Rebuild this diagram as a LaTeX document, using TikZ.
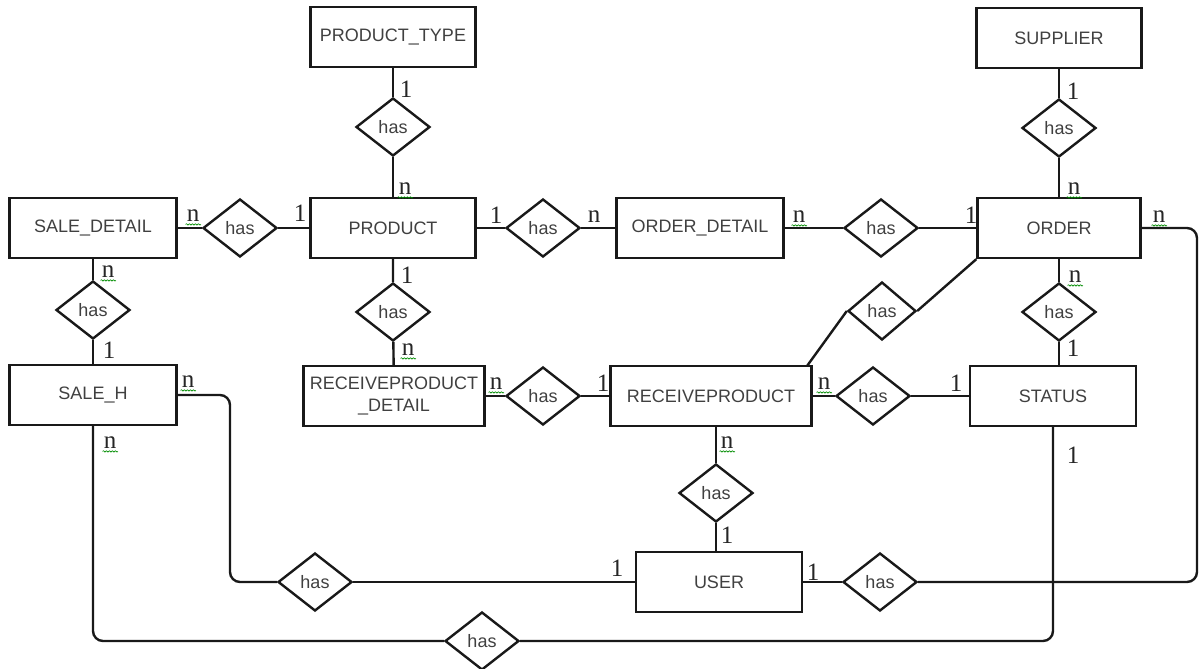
\documentclass[tikz,border=0pt]{standalone}
\usepackage{fontspec}
\setmainfont{Liberation Sans}
\newfontfamily\cardfont{Liberation Serif}
\usetikzlibrary{shapes.geometric,decorations.pathmorphing}
\begin{document}
\begin{tikzpicture}[x=1pt,y=-1pt,
  ent/.style={draw=black!90, line width=2.4pt, minimum width=#1, minimum height=60pt, inner sep=0pt,
    font=\fontsize{18}{22}\selectfont, text=black!75, align=center},
  ent/.default=166pt,
  rel/.style={draw=black!90, diamond, line width=2.4pt, minimum width=74pt, minimum height=58pt, inner sep=0pt,
    font=\fontsize{18}{21}\selectfont, text=black!75},
  conn/.style={draw=black!90, line width=2.4pt},
  card/.style={inner sep=0pt, font=\cardfont\fontsize{25}{25}\selectfont, text=black!85},
  squig/.style={draw=green!55!black, line width=0.6pt, decorate,
    decoration={snake, segment length=3pt, amplitude=0.7pt}}
]
\useasboundingbox (0,0) rectangle (1200,669);

% entities
\node[ent=165pt] (pt)   at (393,37)  {PRODUCT\_TYPE};
\node[ent=165pt] (sup)  at (1059,38) {SUPPLIER};
\node[ent=167pt] (sd)   at (93,228)  {SALE\_DETAIL};
\node[ent=165pt] (p)    at (393,228) {PRODUCT};
\node[ent=167pt] (od)   at (700,228) {ORDER\_DETAIL};
\node[ent=163pt] (ord)  at (1059,228) {ORDER};
\node[ent=167pt] (sh)   at (93,395)  {SALE\_H};
\node[ent=181pt] (rpd)  at (394,396) {RECEIVEPRODUCT\\\_DETAIL};
\node[ent=201pt] (rp)   at (711,396) {RECEIVEPRODUCT};
\node[ent=166pt] (st)   at (1053,396) {STATUS};
\node[ent=166pt] (user) at (719,582) {USER};

% relationships
\node[rel] (h1)  at (393,127) {has};
\node[rel] (h2)  at (1059,128) {has};
\node[rel] (h3)  at (240,228) {has};
\node[rel] (h4)  at (543,228) {has};
\node[rel] (h5)  at (881,228) {has};
\node[rel] (h6)  at (93,310)  {has};
\node[rel] (h7)  at (393,312) {has};
\node[rel, minimum width=68pt] (h8)  at (882,311) {has};
\node[rel] (h9)  at (1059,312) {has};
\node[rel] (h10) at (543,396) {has};
\node[rel] (h11) at (873,396) {has};
\node[rel] (h12) at (716,493) {has};
\node[rel] (h13) at (315,582) {has};
\node[rel] (h14) at (880,582) {has};
\node[rel] (h15) at (482,641) {has};

% helper coordinates
\coordinate (shbend) at (230,500);
\coordinate (loopr) at (1197,400);
\coordinate (rptop) at (807,366);

% connectors
\draw[conn] (pt) -- (h1) -- (p);
\draw[conn] (sup) -- (h2) -- (ord);
\draw[conn] (sd) -- (h3) -- (p);
\draw[conn] (p) -- (h4) -- (od);
\draw[conn] (od) -- (h5) -- (ord);
\draw[conn] (sd) -- (h6) -- (sh);
\draw[conn] (p) -- (h7) -- (rpd);
\draw[conn] (ord.south west) -- (h8.east);
\draw[conn] (h8.west) -- (rptop);
\draw[conn] (h9.north) -- (ord.south -| h9);
\draw[conn] (h9.south) -- (st.north -| h9);
\draw[conn] (rpd) -- (h10) -- (rp);
\draw[conn] (rp) -- (h11) -- (st);
\draw[conn] (h12.north) -- (rp.south -| h12);
\draw[conn] (h12.south) -- (user.north -| h12);
\draw[conn] (h13) -- (user);
\draw[conn] (user) -- (h14);
\draw[conn, rounded corners=10pt] (sh.east) -| (shbend) |- (h13.west);
\draw[conn, rounded corners=10pt] (h14.east) -| (loopr) |- (ord.east);
\draw[conn, rounded corners=10pt] (sh.south) |- (h15.west);
\draw[conn, rounded corners=10pt] (h15.east) -| (st.south);

% cardinalities "1"
\foreach \nm/\x/\y in {o1/406/89, o2/1073/91, o3/300/213, o4/496/215, o5/971/215,
  o6/109/350, o7/407/275, o8/1073/348, o9/603/383, o10/956/383, o11/1073/455,
  o12/727/535, o13/617/568, o14/813/572}
  \node[card] (\nm) at (\x,\y) {1};

% cardinalities "n" with squiggle
\foreach \nm/\x/\y in {m1/405/189, m2/1074/189, m3/193/216, m4/799/217,
  m5/1159/217, m6/108/272, m7/408/350, m8/1075/277, m9/188/382, m10/496/384,
  m11/824/384, m12/110/443, m13/727/443}
{
  \node[card] (\nm) at (\x,\y) {n};
  \draw[squig] ([xshift=-1pt,yshift=-2.5pt]\nm.base west) -- ([xshift=1.5pt,yshift=-2.5pt]\nm.base east);
}
\node[card] (m14) at (594,217) {n};
\end{tikzpicture}
\end{document}
